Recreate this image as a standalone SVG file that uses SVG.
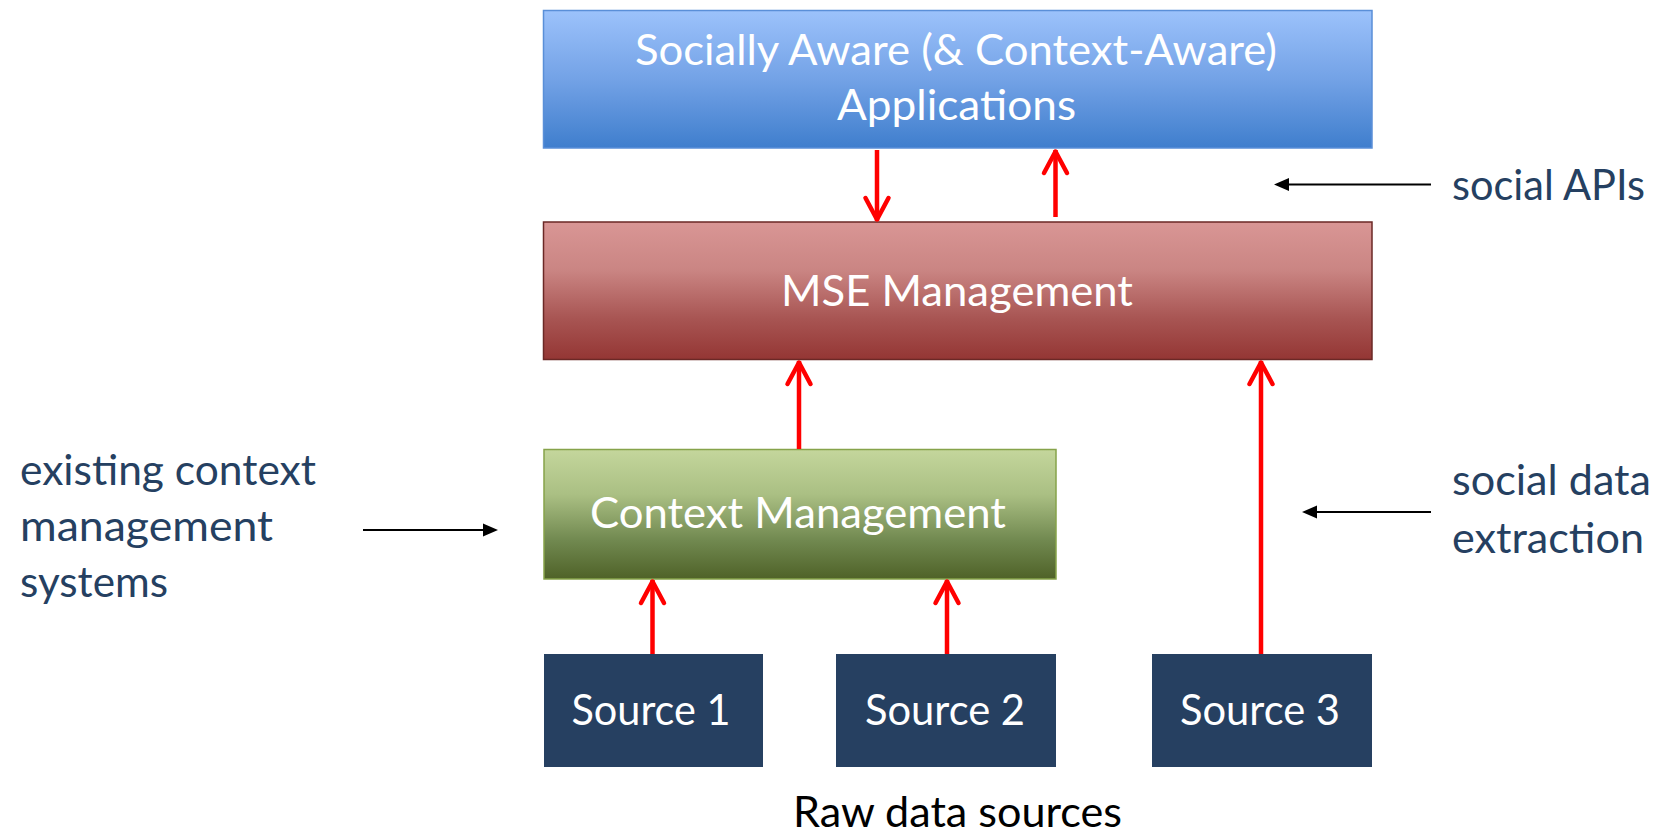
<svg xmlns="http://www.w3.org/2000/svg" width="1660" height="836" viewBox="0 0 1660 836">
<style>
  .lbl { font-family: "Lato", "Liberation Sans", sans-serif; font-size: 42px; }
  .w { fill: #ffffff; text-anchor: middle; }
  .navy { fill: #254061; }
  .red { stroke: #ff0000; stroke-width: 4.5; fill: none; marker-end: url(#chev); }
  .blk { stroke: #000000; stroke-width: 2; fill: none; marker-end: url(#tri); }
</style>
<defs>
  <linearGradient id="gBlue" x1="0" y1="0" x2="0" y2="1">
    <stop offset="0" stop-color="#9cc2fb"/>
    <stop offset="0.5" stop-color="#73a2e6"/>
    <stop offset="1" stop-color="#3f7ecd"/>
  </linearGradient>
  <linearGradient id="gRed" x1="0" y1="0" x2="0" y2="1">
    <stop offset="0" stop-color="#d99695"/>
    <stop offset="0.35" stop-color="#ca8583"/>
    <stop offset="0.7" stop-color="#a85553"/>
    <stop offset="1" stop-color="#943634"/>
  </linearGradient>
  <linearGradient id="gGreen" x1="0" y1="0" x2="0" y2="1">
    <stop offset="0" stop-color="#c4d69c"/>
    <stop offset="0.35" stop-color="#aabf83"/>
    <stop offset="0.7" stop-color="#718950"/>
    <stop offset="1" stop-color="#4f6228"/>
  </linearGradient>
  <marker id="chev" viewBox="-30 -16 34 32" refX="0" refY="0" markerWidth="34" markerHeight="32" orient="auto" markerUnits="userSpaceOnUse">
    <path d="M-23,-11.5 L-1.5,0 L-23,11.5" fill="none" stroke="#ff0000" stroke-width="4.5" stroke-linecap="round" stroke-linejoin="round"/>
  </marker>
  <marker id="tri" viewBox="-6 -8 20 16" refX="0" refY="0" markerWidth="20" markerHeight="16" orient="auto" markerUnits="userSpaceOnUse">
    <path d="M12,0 L-3,-6.5 L-3,6.5 Z" fill="#000000"/>
  </marker>
</defs>
<rect width="1660" height="836" fill="#ffffff"/>

<g id="apps">
  <rect x="543.5" y="10.5" width="828.5" height="137.5" fill="url(#gBlue)" stroke="#5a8fd8" stroke-width="1.5"/>
  <text class="lbl w" x="956" y="65" textLength="642" lengthAdjust="spacingAndGlyphs">Socially Aware (&amp; Context-Aware)</text>
  <text class="lbl w" x="956.5" y="120" textLength="239" lengthAdjust="spacingAndGlyphs">Applications</text>
</g>

<g id="mse">
  <rect x="543.5" y="222" width="828.5" height="137.5" fill="url(#gRed)" stroke="#6b2826" stroke-width="1.5"/>
  <text class="lbl w" x="957" y="306" textLength="352" lengthAdjust="spacingAndGlyphs">MSE Management</text>
</g>

<g id="context">
  <rect x="544" y="449.5" width="512" height="129.5" fill="url(#gGreen)" stroke="#86a34a" stroke-width="1.5"/>
  <text class="lbl w" x="798" y="528" textLength="416" lengthAdjust="spacingAndGlyphs">Context Management</text>
</g>

<g id="source1">
  <rect x="544" y="654" width="219" height="113" fill="#264061"/>
  <text class="lbl w" x="651" y="725" textLength="159" lengthAdjust="spacingAndGlyphs">Source 1</text>
</g>
<g id="source2">
  <rect x="836" y="654" width="220" height="113" fill="#264061"/>
  <text class="lbl w" x="945" y="725" textLength="160" lengthAdjust="spacingAndGlyphs">Source 2</text>
</g>
<g id="source3">
  <rect x="1152" y="654" width="220" height="113" fill="#264061"/>
  <text class="lbl w" x="1260" y="725" textLength="160" lengthAdjust="spacingAndGlyphs">Source 3</text>
</g>

<g id="raw-label">
  <text class="lbl" x="957.5" y="827" font-size="40" fill="#000000" text-anchor="middle" textLength="329" lengthAdjust="spacingAndGlyphs">Raw data sources</text>
</g>

<g id="social-apis-label">
  <text class="lbl navy" x="1452" y="200" textLength="193" lengthAdjust="spacingAndGlyphs">social APIs</text>
</g>
<g id="social-data-label">
  <text class="lbl navy" x="1452" y="495" textLength="199" lengthAdjust="spacingAndGlyphs">social data</text>
  <text class="lbl navy" x="1452" y="553" textLength="192" lengthAdjust="spacingAndGlyphs">extraction</text>
</g>
<g id="existing-label">
  <text class="lbl navy" x="20" y="485" textLength="296" lengthAdjust="spacingAndGlyphs">existing context</text>
  <text class="lbl navy" x="20" y="541" textLength="253" lengthAdjust="spacingAndGlyphs">management</text>
  <text class="lbl navy" x="20" y="597" textLength="148" lengthAdjust="spacingAndGlyphs">systems</text>
</g>

<g id="connectors">
  <path class="red" d="M877,150 L877,221"/>
  <path class="red" d="M1055.5,217 L1055.5,150"/>
  <path class="red" d="M799,449 L799,361"/>
  <path class="red" d="M1261,654 L1261,361"/>
  <path class="red" d="M652.5,654 L652.5,580"/>
  <path class="red" d="M947,654 L947,580"/>
  <path class="blk" d="M1431,184.5 L1286,184.5"/>
  <path class="blk" d="M1431,512 L1314,512"/>
  <path class="blk" d="M363,530 L486,530"/>
</g>
</svg>
